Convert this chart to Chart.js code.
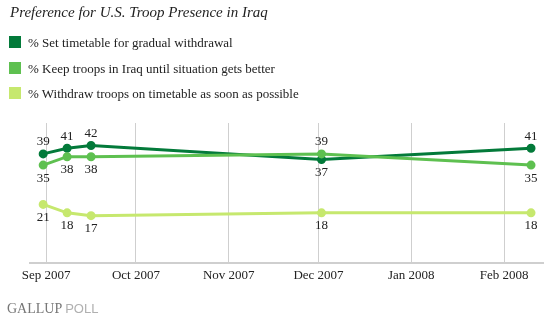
<!DOCTYPE html>
<html>
<head>
<meta charset="utf-8">
<script src="https://cdn.jsdelivr.net/npm/chart.js@4/dist/chart.umd.min.js"></script>
<style>
  html, body { margin: 0; padding: 0; background: #fff; }
  #wrap { position: relative; width: 550px; height: 321px; overflow: hidden; }
  #grafico { position: absolute; left: 0; top: 0; }
  .titulo { position: absolute; left: 10px; top: 4px; font: italic 15px "Liberation Serif", serif; color: #222; }
  .legenda { position: absolute; left: 9px; font: 13px "Liberation Serif", serif; color: #222; line-height: 14px; }
  .legenda span { display: inline-block; width: 12px; height: 12px; vertical-align: top; margin-right: 7px; }
  .rodape { position: absolute; left: 7px; top: 301px; font: 14px "Liberation Serif", serif; color: #777; }
  .rodape b { font: 13px "Liberation Sans", sans-serif; color: #b0b0b0; font-weight: normal; }
</style>
</head>
<body>
<div id="wrap">
  <canvas id="grafico" width="550" height="321"></canvas>
  <div class="titulo">Preference for U.S. Troop Presence in Iraq</div>
  <div id="legenda"></div>
  <div class="rodape">GALLUP <b>POLL</b></div>
</div>
<script>
// ─── Dados ────────────────────────────────────────────────────────────────────
// dias contados a partir de 1 set 2007
const DIAS_PESQUISA = [-1, 7, 15, 92, 162];
const TIMETABLE     = [39, 41, 42, 37, 41];
const KEEP_TROOPS   = [35, 38, 38, 39, 35];
const WITHDRAW_ASAP = [21, 18, 17, 18, 18];

const TICKS_DIAS   = [0, 30, 61, 91, 122, 153];
const TICKS_LABELS = ['Sep 2007', 'Oct 2007', 'Nov 2007', 'Dec 2007', 'Jan 2008', 'Feb 2008'];

const SERIES = [
  { nome: '% Set timetable for gradual withdrawal',            valores: TIMETABLE,     cor: '#037a3a', lado: ['above', 'above', 'above', 'below', 'above'] },
  { nome: '% Keep troops in Iraq until situation gets better', valores: KEEP_TROOPS,   cor: '#5ec050', lado: ['below', 'below', 'below', 'above', 'below'] },
  { nome: '% Withdraw troops on timetable as soon as possible', valores: WITHDRAW_ASAP, cor: '#c6e86e', lado: ['below', 'below', 'below', 'below', 'below'] },
];

// ─── Legenda HTML ─────────────────────────────────────────────────────────────
document.getElementById('legenda').innerHTML = SERIES.map((s, i) =>
  `<div class="legenda" style="top:${36 + i * 25.5}px"><span style="background:${s.cor}"></span>${s.nome}</div>`
).join('');

// ─── Plugin de rótulos de valor ───────────────────────────────────────────────
const rotulos = {
  id: 'rotulos',
  afterDatasetsDraw(chart) {
    const ctx = chart.ctx;
    ctx.save();
    ctx.font = '13px "Liberation Serif", serif';
    ctx.fillStyle = '#222';
    ctx.textAlign = 'center';
    ctx.textBaseline = 'middle';
    chart.data.datasets.forEach((ds, di) => {
      chart.getDatasetMeta(di).data.forEach((pt, i) => {
        const dy = ds.lado[i] === 'above' ? -12 : 13;
        ctx.fillText(ds.data[i].y, pt.x, pt.y + dy);
      });
    });
    ctx.restore();
  },
};

// ─── Gráfico ──────────────────────────────────────────────────────────────────
new Chart(document.getElementById('grafico'), {
  type: 'line',
  data: {
    datasets: SERIES.slice().reverse().map(s => ({
      label: s.nome,
      data: DIAS_PESQUISA.map((d, i) => ({ x: d, y: s.valores[i] })),
      lado: s.lado,
      borderColor: s.cor,
      backgroundColor: s.cor,
      borderWidth: 3,
      pointRadius: 3,
      pointHoverRadius: 3,
      tension: 0,
    })),
  },
  options: {
    responsive: false,
    animation: false,
    events: [],
    layout: { padding: { left: 30, right: 7, top: 123, bottom: 34 } },
    plugins: { legend: { display: false }, tooltip: { enabled: false } },
    scales: {
      x: {
        type: 'linear',
        min: -5.4,
        max: 166,
        afterBuildTicks: axis => { axis.ticks = TICKS_DIAS.map(v => ({ value: v })); },
        ticks: {
          autoSkip: false,
          maxRotation: 0,
          padding: 4,
          color: '#222',
          font: { family: '"Liberation Serif", serif', size: 13 },
          callback: v => TICKS_LABELS[TICKS_DIAS.indexOf(v)] ?? '',
        },
        grid: { color: '#cfcfcf', lineWidth: 1, tickLength: 0, drawTicks: false },
        border: { color: '#cfcfcf', width: 2 },
      },
      y: { display: false, min: 0, max: 50 },
    },
  },
  plugins: [rotulos],
});
</script>
</body>
</html>
